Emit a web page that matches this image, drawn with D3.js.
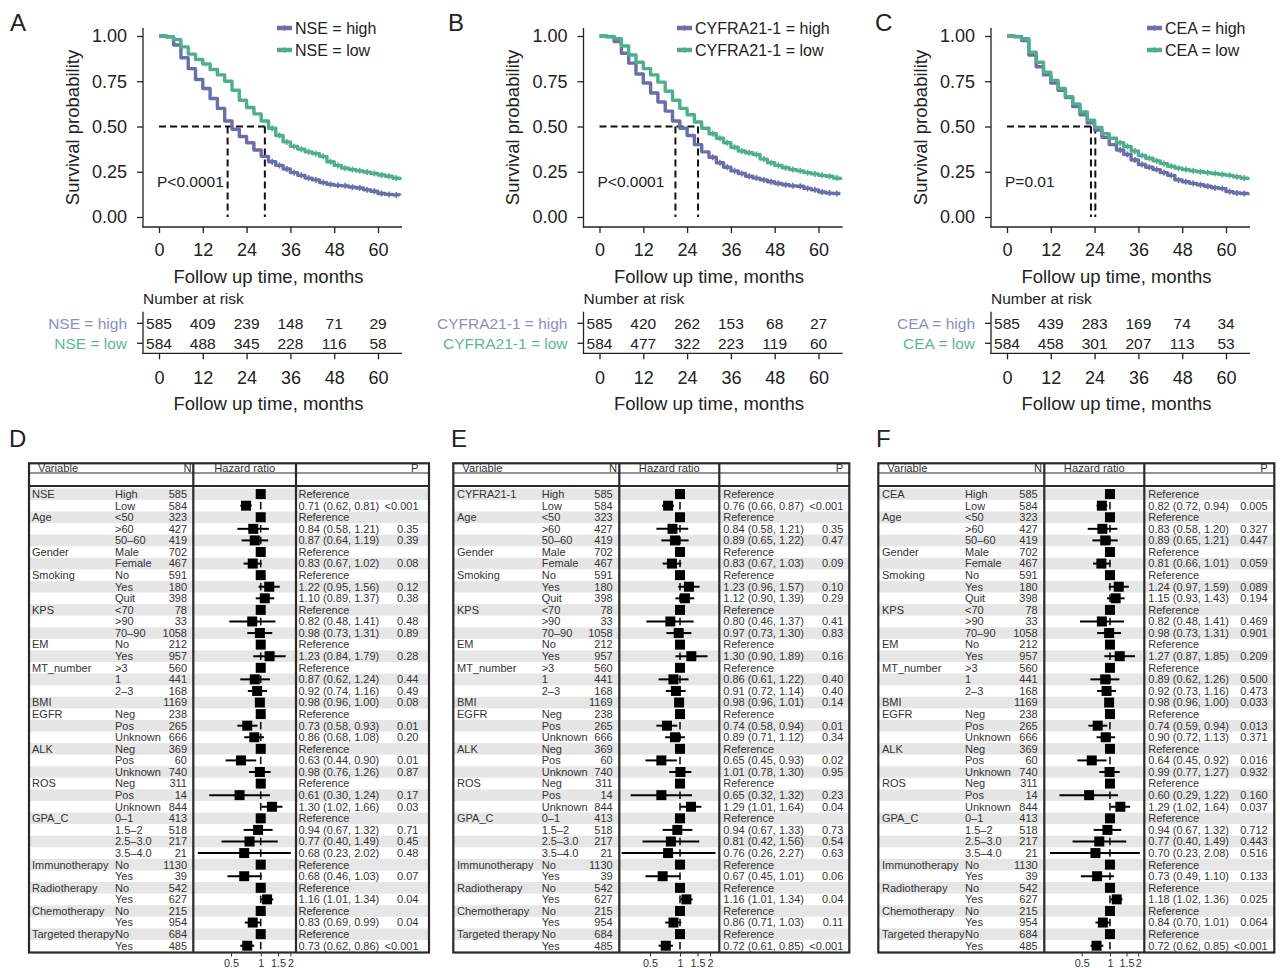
<!DOCTYPE html>
<html>
<head>
<meta charset="utf-8">
<script src="https://cdn.jsdelivr.net/npm/d3@7"></script>
<style>
body { margin: 0; background: #fff; }
svg { display: block; font-family: "Liberation Sans", Arial, sans-serif; }
</style>
</head>
<body>
<svg id="fig" width="1280" height="968"></svg>
<script>
// ---------- Kaplan-Meier data (every 2 months) ----------
var months = [0,2,4,6,8,10,12,14,16,18,20,22,24,26,28,30,32,34,36,38,40,42,44,46,48,50,52,54,56,58,60,62,64,66];

var nseHigh = [1.00,0.995,0.95,0.88,0.82,0.76,0.71,0.655,0.60,0.53,0.485,0.445,0.41,0.37,0.335,0.305,0.285,0.265,0.245,0.23,0.215,0.205,0.19,0.18,0.175,0.172,0.165,0.16,0.15,0.142,0.13,0.125,0.122,0.12];
var nseLow  = [1.00,0.995,0.98,0.94,0.90,0.87,0.845,0.815,0.785,0.75,0.70,0.645,0.605,0.57,0.53,0.49,0.45,0.415,0.39,0.375,0.36,0.35,0.335,0.305,0.285,0.27,0.262,0.255,0.248,0.24,0.232,0.225,0.215,0.205];
var cyfHigh = [1.00,0.995,0.97,0.905,0.85,0.79,0.74,0.685,0.635,0.585,0.53,0.49,0.45,0.40,0.36,0.33,0.30,0.275,0.255,0.24,0.225,0.215,0.205,0.195,0.185,0.178,0.172,0.17,0.158,0.15,0.138,0.132,0.13,0.13];
var cyfLow  = [1.00,0.998,0.985,0.945,0.895,0.855,0.82,0.785,0.745,0.695,0.645,0.60,0.565,0.525,0.49,0.46,0.435,0.41,0.385,0.365,0.355,0.345,0.32,0.30,0.285,0.272,0.262,0.255,0.245,0.238,0.23,0.225,0.215,0.205];
var ceaHigh = [1.00,0.995,0.975,0.895,0.83,0.785,0.74,0.70,0.66,0.61,0.565,0.52,0.48,0.44,0.40,0.37,0.345,0.315,0.29,0.275,0.262,0.245,0.23,0.205,0.195,0.186,0.178,0.17,0.162,0.157,0.14,0.133,0.13,0.12];
var ceaLow  = [1.00,0.998,0.985,0.91,0.855,0.80,0.755,0.71,0.665,0.625,0.58,0.535,0.495,0.46,0.435,0.41,0.39,0.365,0.34,0.325,0.31,0.295,0.28,0.27,0.262,0.255,0.25,0.245,0.24,0.235,0.23,0.222,0.215,0.205];

var nseMedian = [18.8, 29.0];
var cyfMedian = [20.8, 27.0];
var ceaMedian = [23.0, 24.2];

var censorTimes = [31,33,35,37,39,41,43,45,47,49,51,53,55,57,59,61,63,65];

var timeTicks = [0, 12, 24, 36, 48, 60];
var survTicks = [0, 0.25, 0.5, 0.75, 1];

var nseRiskHigh = [585, 409, 239, 148, 71, 29];
var nseRiskLow  = [584, 488, 345, 228, 116, 58];
var cyfRiskHigh = [585, 420, 262, 153, 68, 27];
var cyfRiskLow  = [584, 477, 322, 223, 119, 60];
var ceaRiskHigh = [585, 439, 283, 169, 74, 34];
var ceaRiskLow  = [584, 458, 301, 207, 113, 53];

// ---------- forest plot data ----------
var rowVar = ["", "", "Age", "", "", "Gender", "", "Smoking", "", "", "KPS", "", "", "EM", "", "MT_number", "", "", "BMI",
  "EGFR", "", "", "ALK", "", "", "ROS", "", "", "GPA_C", "", "", "", "Immunotherapy", "", "Radiotherapy", "", "Chemotherapy", "", "Targeted therapy", ""];
var rowLevel = ["High", "Low", "<50", ">60", "50\u201360", "Male", "Female", "No", "Yes", "Quit", "<70", ">90", "70\u201390", "No", "Yes", ">3", "1", "2\u20133", "",
  "Neg", "Pos", "Unknown", "Neg", "Pos", "Unknown", "Neg", "Pos", "Unknown", "0\u20131", "1.5\u20132", "2.5\u20133.0", "3.5\u20134.0", "No", "Yes", "No", "Yes", "No", "Yes", "No", "Yes"];
var rowN = [585,584,323,427,419,702,467,591,180,398,78,33,1058,212,957,560,441,168,1169,238,265,666,369,60,740,311,14,844,413,518,217,21,1130,39,542,627,215,954,684,485];

var forestMarkers = ["NSE", "CYFRA21-1", "CEA"];

var nseHR  = [null,0.71,null,0.84,0.87,null,0.83,null,1.22,1.10,null,0.82,0.98,null,1.23,null,0.87,0.92,0.98,null,0.73,0.86,null,0.63,0.98,null,0.61,1.30,null,0.94,0.77,0.68,null,0.68,null,1.16,null,0.83,null,0.73];
var nseLo  = [null,0.62,null,0.58,0.64,null,0.67,null,0.95,0.89,null,0.48,0.73,null,0.84,null,0.62,0.74,0.96,null,0.58,0.68,null,0.44,0.76,null,0.30,1.02,null,0.67,0.40,0.23,null,0.46,null,1.01,null,0.69,null,0.62];
var nseHi  = [null,0.81,null,1.21,1.19,null,1.02,null,1.56,1.37,null,1.41,1.31,null,1.79,null,1.24,1.16,1.00,null,0.93,1.08,null,0.90,1.26,null,1.24,1.66,null,1.32,1.49,2.02,null,1.03,null,1.34,null,0.99,null,0.86];
var nseP   = ["","<0.001","","0.35","0.39","","0.08","","0.12","0.38","","0.48","0.89","","0.28","","0.44","0.49","0.08","","0.01","0.20","","0.01","0.87","","0.17","0.03","","0.71","0.45","0.48","","0.07","","0.04","","0.04","","<0.001"];

var cyfHR  = [null,0.76,null,0.84,0.89,null,0.83,null,1.23,1.12,null,0.80,0.97,null,1.30,null,0.86,0.91,0.98,null,0.74,0.89,null,0.65,1.01,null,0.65,1.29,null,0.94,0.81,0.76,null,0.67,null,1.16,null,0.86,null,0.72];
var cyfLo  = [null,0.66,null,0.58,0.65,null,0.67,null,0.96,0.90,null,0.46,0.73,null,0.90,null,0.61,0.72,0.96,null,0.58,0.71,null,0.45,0.78,null,0.32,1.01,null,0.67,0.42,0.26,null,0.45,null,1.01,null,0.71,null,0.61];
var cyfHi  = [null,0.87,null,1.21,1.22,null,1.03,null,1.57,1.39,null,1.37,1.30,null,1.89,null,1.22,1.14,1.01,null,0.94,1.12,null,0.93,1.30,null,1.32,1.64,null,1.33,1.56,2.27,null,1.01,null,1.34,null,1.03,null,0.85];
var cyfP   = ["","<0.001","","0.35","0.47","","0.09","","0.10","0.29","","0.41","0.83","","0.16","","0.40","0.40","0.14","","0.01","0.34","","0.02","0.95","","0.23","0.04","","0.73","0.54","0.63","","0.06","","0.04","","0.11","","<0.001"];

var ceaHR  = [null,0.82,null,0.83,0.89,null,0.81,null,1.24,1.15,null,0.82,0.98,null,1.27,null,0.89,0.92,0.98,null,0.74,0.90,null,0.64,0.99,null,0.60,1.29,null,0.94,0.77,0.70,null,0.73,null,1.18,null,0.84,null,0.72];
var ceaLo  = [null,0.72,null,0.58,0.65,null,0.66,null,0.97,0.93,null,0.48,0.73,null,0.87,null,0.62,0.73,0.96,null,0.59,0.72,null,0.45,0.77,null,0.29,1.02,null,0.67,0.40,0.23,null,0.49,null,1.02,null,0.70,null,0.62];
var ceaHi  = [null,0.94,null,1.20,1.21,null,1.01,null,1.59,1.43,null,1.41,1.31,null,1.85,null,1.26,1.16,1.00,null,0.94,1.13,null,0.92,1.27,null,1.22,1.64,null,1.32,1.49,2.08,null,1.10,null,1.36,null,1.01,null,0.85];
var ceaP   = ["","0.005","","0.327","0.447","","0.059","","0.089","0.194","","0.469","0.901","","0.209","","0.500","0.473","0.033","","0.013","0.371","","0.016","0.932","","0.160","0.037","","0.712","0.443","0.516","","0.133","","0.025","","0.064","","<0.001"];

var hrTicks = [0.5, 1, 1.5, 2];

// ---------- drawing ----------
var svg = d3.select("#fig");
var colHigh = "#6a6ea9", colLow = "#4fae8d";
var labHigh = "#8a8ec4", labLow = "#5cb895";

var kmPanels = [
  {ox: 0,     letter: "A", letterX: 10,  marker: "NSE",       high: nseHigh, low: nseLow, med: nseMedian, riskHigh: nseRiskHigh, riskLow: nseRiskLow, pText: "P<0.0001", legX: 277},
  {ox: 440.5, letter: "B", letterX: 448, marker: "CYFRA21-1", high: cyfHigh, low: cyfLow, med: cyfMedian, riskHigh: cyfRiskHigh, riskLow: cyfRiskLow, pText: "P<0.0001", legX: 236.5},
  {ox: 848,   letter: "C", letterX: 875, marker: "CEA",       high: ceaHigh, low: ceaLow, med: ceaMedian, riskHigh: ceaRiskHigh, riskLow: ceaRiskLow, pText: "P=0.01",   legX: 299}
];

function styleAxis(a, size) {
  a.select(".domain").remove();
  a.attr("font-size", size).attr("font-family", null).attr("color", "#222");
  a.selectAll("line").attr("stroke-width", 1.3);
}

function drawKM(p) {
  svg.append("text").attr("x", p.letterX).attr("y", 23).attr("dy", "0.35em")
    .attr("font-size", 24).attr("fill", "#222").text(p.letter);

  var g = svg.append("g").attr("transform", "translate(" + p.ox + ",0)");
  var x = d3.scaleLinear().domain([0, 60]).range([159, 378]);
  var y = d3.scaleLinear().domain([0, 1]).range([217, 36]);

  var ya = g.append("g").attr("transform", "translate(143,0)")
    .call(d3.axisLeft(y).tickValues(survTicks).tickFormat(d3.format(".2f")).tickSize(6).tickPadding(10));
  styleAxis(ya, 18);
  var xa = g.append("g").attr("transform", "translate(0,227)")
    .call(d3.axisBottom(x).tickValues(timeTicks).tickSize(6).tickPadding(10.5));
  styleAxis(xa, 18);
  g.append("line").attr("x1", 143).attr("x2", 143).attr("y1", 28).attr("y2", 227.6).attr("stroke", "#222").attr("stroke-width", 1.3);
  g.append("line").attr("x1", 142.4).attr("x2", x(66.6)).attr("y1", 227).attr("y2", 227).attr("stroke", "#222").attr("stroke-width", 1.3);

  g.append("text").attr("x", x(30)).attr("y", 276.5).attr("dy", "0.35em").attr("text-anchor", "middle")
    .attr("font-size", 18.5).attr("fill", "#222").text("Follow up time, months");
  g.append("text").attr("transform", "translate(72.5,127.5) rotate(-90)").attr("dy", "0.35em").attr("text-anchor", "middle")
    .attr("font-size", 18.5).attr("fill", "#222").text("Survival probability");

  // median dashes
  var dash = g.append("g").attr("stroke", "#111").attr("stroke-width", 2).attr("stroke-dasharray", "7,4");
  dash.append("line").attr("x1", x(0)).attr("x2", x(d3.max(p.med))).attr("y1", y(0.5)).attr("y2", y(0.5));
  dash.selectAll(".v").data(p.med).join("line")
    .attr("x1", d => x(d)).attr("x2", d => x(d)).attr("y1", y(0.5)).attr("y2", y(0));

  var line = d3.line().x(d => x(d[0])).y(d => y(d[1])).curve(d3.curveStepAfter);
  [[p.high, colHigh], [p.low, colLow]].forEach(function (s) {
    var pts = months.map((t, i) => [t, s[0][i]]);
    g.append("path").datum(pts).attr("d", line).attr("fill", "none")
      .attr("stroke", s[1]).attr("stroke-width", 3.4).attr("stroke-linejoin", "round");
    var cens = censorTimes.map(function (t) { return [t, s[0][d3.bisectRight(months, t) - 1]]; });
    g.selectAll(null).data(cens).join("path")
      .attr("d", d => "M" + (x(d[0]) - 3) + "," + y(d[1]) + "h6M" + x(d[0]) + "," + (y(d[1]) - 3) + "v6")
      .attr("stroke", s[1]).attr("stroke-width", 1.6);
  });

  g.append("text").attr("x", 157).attr("y", 181.5).attr("dy", "0.35em").attr("font-size", 15.5).attr("fill", "#222").text(p.pText);

  // legend
  var leg = g.append("g").attr("transform", "translate(" + p.legX + ",0)");
  [["high", colHigh, 28], ["low", colLow, 50]].forEach(function (l) {
    leg.append("line").attr("x1", 0).attr("x2", 15).attr("y1", l[2]).attr("y2", l[2]).attr("stroke", l[1]).attr("stroke-width", 4.5);
    leg.append("path").attr("d", "M4.5," + l[2] + "h6M7.5," + (l[2] - 3) + "v6").attr("stroke", l[1]).attr("stroke-width", 1.5).attr("opacity", 0.7);
    leg.append("text").attr("x", 18).attr("y", l[2]).attr("dy", "0.35em").attr("font-size", 16).attr("fill", "#222")
      .text(p.marker + " = " + l[0]);
  });

  // risk table
  g.append("text").attr("x", 143).attr("y", 299).attr("dy", "0.35em").attr("font-size", 15.5).attr("fill", "#222").text("Number at risk");
  g.append("line").attr("x1", 143).attr("x2", 143).attr("y1", 311.7).attr("y2", 354).attr("stroke", "#222").attr("stroke-width", 1.3);
  var ra = g.append("g").attr("transform", "translate(0,353.3)")
    .call(d3.axisBottom(x).tickValues(timeTicks).tickSize(6).tickPadding(12));
  styleAxis(ra, 18);
  g.append("line").attr("x1", 142.4).attr("x2", x(66.6)).attr("y1", 353.3).attr("y2", 353.3).attr("stroke", "#222").attr("stroke-width", 1.3);
  g.append("text").attr("x", x(30)).attr("y", 403.5).attr("dy", "0.35em").attr("text-anchor", "middle")
    .attr("font-size", 18.5).attr("fill", "#222").text("Follow up time, months");

  [[p.riskHigh, "high", labHigh, 323.3], [p.riskLow, "low", labLow, 343.3]].forEach(function (r) {
    g.append("line").attr("x1", 137).attr("x2", 143).attr("y1", r[3]).attr("y2", r[3]).attr("stroke", "#222").attr("stroke-width", 1.3);
    g.append("text").attr("x", 127).attr("y", r[3]).attr("dy", "0.35em").attr("text-anchor", "end")
      .attr("font-size", 15.5).attr("fill", r[2]).text(p.marker + " = " + r[1]);
    g.selectAll(null).data(r[0]).join("text")
      .attr("x", (d, i) => x(timeTicks[i])).attr("y", r[3]).attr("dy", "0.35em").attr("text-anchor", "middle")
      .attr("font-size", 15.5).attr("fill", "#222").text(d => d);
  });
}

kmPanels.forEach(drawKM);

// ---------- forest plots ----------
var forestPanels = [
  {letter: "D", letterX: 9,   marker: forestMarkers[0], hr: nseHR, lo: nseLo, hi: nseHi, p: nseP,
   left: 29, varX: 32, levelX: 115, nX: 187, sep1: 193.3, sep2: 296, estX: 298.5, pX: 418.5, right: 429, dom: [0.207, 2.28]},
  {letter: "E", letterX: 451, marker: forestMarkers[1], hr: cyfHR, lo: cyfLo, hi: cyfHi, p: cyfP,
   left: 453.3, varX: 457, levelX: 541.7, nX: 612.7, sep1: 619.3, sep2: 719.3, estX: 723.3, pX: 843.3, right: 849.3, dom: [0.246, 2.48]},
  {letter: "F", letterX: 876, marker: forestMarkers[2], hr: ceaHR, lo: ceaLo, hi: ceaHi, p: ceaP,
   left: 878.3, varX: 882, levelX: 965, nX: 1037.7, sep1: 1044.3, sep2: 1144.3, estX: 1148.3, pX: 1267.7, right: 1274.3, dom: [0.2, 2.32]}
];

var boxTop = 463.3, headLine = 473, bodyLine = 485.9, rowsTop = 488.3, rowsBottom = 951.5, boxBottom = 952.5;

function drawForest(f) {
  svg.append("text").attr("x", f.letterX).attr("y", 439).attr("dy", "0.35em")
    .attr("font-size", 24).attr("fill", "#222").text(f.letter);

  var g = svg.append("g").attr("font-size", 11);
  var x = d3.scaleLog().domain(f.dom).range([f.sep1, f.sep2]);
  var band = d3.scaleBand().domain(rowN.map((d, i) => i)).range([rowsTop, rowsBottom]);
  var bw = band.bandwidth();
  var rows = rowN.map(function (n, i) {
    return {i: i, v: i === 0 ? f.marker : rowVar[i], lev: rowLevel[i], n: n, hr: f.hr[i], lo: f.lo[i], hi: f.hi[i], p: f.p[i]};
  });
  var cy = r => band(r.i) + bw / 2;

  g.selectAll(".stripe").data(rows.filter(r => r.i % 2 === 0)).join("rect")
    .attr("x", f.left).attr("width", f.right - f.left).attr("y", r => band(r.i)).attr("height", bw).attr("fill", "#e6e6e6");

  // reference line at HR = 1
  g.selectAll(".ref").data(rows).join("line")
    .attr("x1", x(1)).attr("x2", x(1)).attr("y1", r => band(r.i) + 2).attr("y2", r => band(r.i) + bw - 2)
    .attr("stroke", "#111").attr("stroke-width", 1.6);

  var est = rows.filter(r => r.hr !== null);
  g.selectAll(".ci").data(est).join("line")
    .attr("x1", r => x(r.lo)).attr("x2", r => x(r.hi)).attr("y1", cy).attr("y2", cy)
    .attr("stroke", "#000").attr("stroke-width", 2);
  g.selectAll(".sq").data(rows).join("rect")
    .attr("x", r => x(r.hr === null ? 1 : r.hr) - 5).attr("y", r => cy(r) - 5)
    .attr("width", 10).attr("height", 10).attr("fill", "#000");

  var txt = function (sel, xf, anchor, tf) {
    g.selectAll(null).data(sel).join("text").attr("x", xf).attr("y", cy).attr("dy", "0.35em")
      .attr("text-anchor", anchor).attr("fill", "#333").text(tf);
  };
  txt(rows.filter(r => r.v !== ""), f.varX, "start", r => r.v);
  txt(rows, f.levelX, "start", r => r.lev);
  txt(rows, f.nX, "end", r => r.n);
  txt(rows, f.estX, "start", r => r.hr === null ? "Reference" :
    r.hr.toFixed(2) + " (" + r.lo.toFixed(2) + ", " + r.hi.toFixed(2) + ")");
  txt(rows.filter(r => r.p !== ""), f.pX, "end", r => r.p);

  // frame
  var fr = g.append("g").attr("stroke", "#2a2a2a").attr("fill", "none");
  fr.append("rect").attr("x", f.left).attr("y", boxTop).attr("width", f.right - f.left).attr("height", boxBottom - boxTop).attr("stroke-width", 2.2);
  fr.append("line").attr("x1", f.left).attr("x2", f.right).attr("y1", headLine).attr("y2", headLine).attr("stroke-width", 1.2);
  fr.append("line").attr("x1", f.left).attr("x2", f.right).attr("y1", bodyLine).attr("y2", bodyLine).attr("stroke-width", 2);
  fr.selectAll(null).data([f.sep1, f.sep2]).join("line")
    .attr("x1", d => d).attr("x2", d => d).attr("y1", boxTop).attr("y2", boxBottom).attr("stroke-width", 2.2);

  // header (drawn over the frame)
  var hy = headLine - 1.3;
  var hd = g.append("g").attr("font-size", 11.2).attr("fill", "#333");
  hd.append("text").attr("x", f.left + 9).attr("y", hy).text("Variable");
  hd.append("text").attr("x", f.nX + 4.5).attr("y", hy).attr("text-anchor", "end").text("N");
  hd.append("text").attr("x", (f.sep1 + f.sep2) / 2).attr("y", hy).attr("text-anchor", "middle").text("Hazard ratio");
  hd.append("text").attr("x", f.pX).attr("y", hy).attr("text-anchor", "end").text("P");

  var ax = g.append("g").attr("transform", "translate(0," + boxBottom + ")")
    .call(d3.axisBottom(x).tickValues(hrTicks).tickFormat(d3.format("")).tickSize(4).tickPadding(3));
  ax.select(".domain").remove();
  ax.attr("font-size", 10.8).attr("font-family", null).attr("color", "#333");
}

forestPanels.forEach(drawForest);
</script>
</body>
</html>
